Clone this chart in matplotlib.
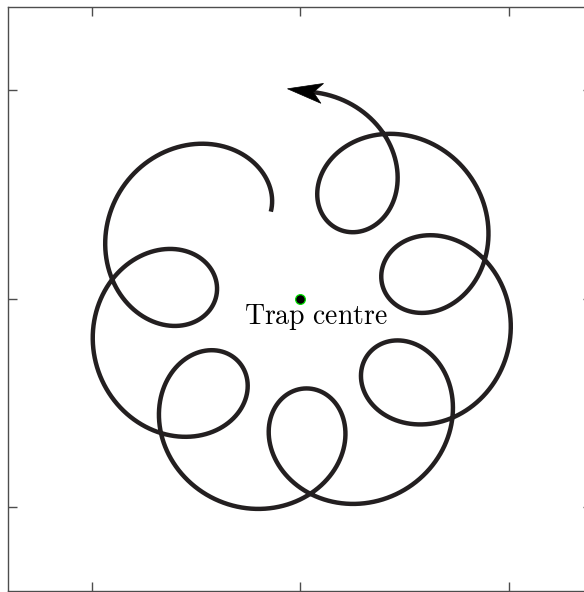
import numpy as np
import matplotlib
matplotlib.use("Agg")
import matplotlib.pyplot as plt
from matplotlib.patches import Polygon

# Ion orbit in a Penning trap: slow magnetron motion plus fast modified-cyclotron motion
magnetron_radius = 0.712
cyclotron_radius = 0.308
frequency_ratio = 8.16                 # omega_plus / omega_minus
cyclotron_phase_deg = 25.2
magnetron_phase_deg = [126.2, 448.2]   # start / end of the plotted stretch
orbit_centre = [0.0, -0.027]
trap_centre = [0.0, 0.0]
centre_label = "Trap centre"
tick_values = [-1, 0, 1]
axis_limit = 1.40

plt.rcParams["mathtext.fontset"] = "cm"

fig = plt.figure(figsize=(5.84, 5.92), dpi=100)
ax = fig.add_axes([8.3 / 584, 1.3 / 592, 584.0 / 584, 584.0 / 592])

theta = np.deg2rad(np.linspace(magnetron_phase_deg[0], magnetron_phase_deg[1], 4000))
psi = np.deg2rad(cyclotron_phase_deg)
z = (orbit_centre[0] + 1j * orbit_centre[1]
     + magnetron_radius * np.exp(1j * theta)
     + cyclotron_radius * np.exp(1j * (frequency_ratio * theta + psi)))
x, y = z.real, z.imag

line_color = "#231f20"
ax.plot(x, y, color=line_color, lw=3.2, solid_capstyle="butt", zorder=2)

# stealth-style arrow head continuing the orbit's final direction
d = np.array([x[-1] - x[-6], y[-1] - y[-6]])
d /= np.hypot(*d)
n = np.array([-d[1], d[0]])
head_len, head_half, notch = 0.168, 0.048, 0.043
base = np.array([x[-1], y[-1]]) - d * notch
tip = base + d * head_len
back = tip - d * head_len
head = [tip, back + n * head_half, tip - d * (head_len - notch), back - n * head_half]
ax.add_patch(Polygon(head, closed=True, facecolor="black", edgecolor="black",
                     lw=0.5, zorder=3))

ax.plot(trap_centre[0], trap_centre[1], "o", ms=7.0, mfc="black", mec="#00e000",
        mew=0.9, zorder=4)
ax.text(0.074, -0.120, r"$\mathrm{Trap\ centre}$", fontsize=20, ha="center",
        va="baseline", color="black", zorder=5)

ax.set_xlim(-axis_limit, axis_limit)
ax.set_ylim(-axis_limit, axis_limit)
ax.set_xticks(tick_values)
ax.set_yticks(tick_values)
ax.set_xticklabels([])
ax.set_yticklabels([])
spine_color = "#4d4d4d"
for s in ax.spines.values():
    s.set_color(spine_color)
    s.set_linewidth(1.0)
ax.tick_params(direction="in", length=6.5, width=1.0, color=spine_color,
               top=True, right=True)

fig.savefig("out.png", dpi=100)
